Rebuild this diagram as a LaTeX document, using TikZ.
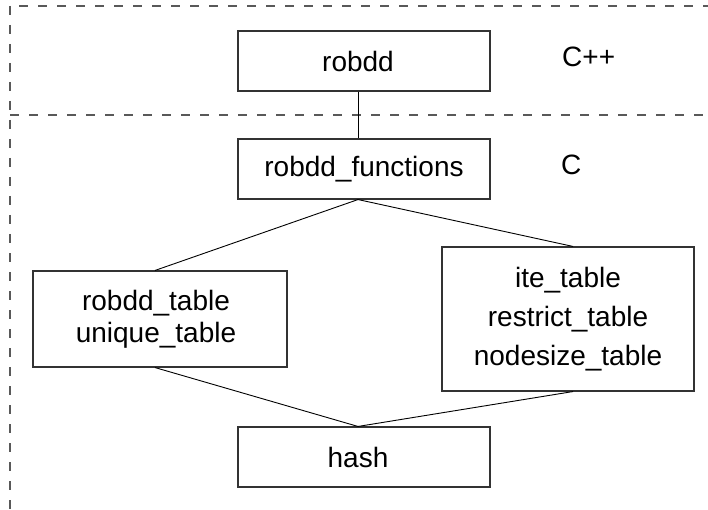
\documentclass[tikz,border=0pt]{standalone}
\usepackage{fontspec}
\setmainfont{Liberation Sans}
\begin{document}
\begin{tikzpicture}[x=1pt,y=-1pt,
  box/.style={draw=black!80, line width=1.1pt, minimum width=252pt, inner sep=0pt, align=center},
  txtA/.style={font=\fontsize{28}{32}\selectfont},
  txtB/.style={font=\fontsize{28}{39}\selectfont},
  link/.style={draw=black, line width=0.9pt},
  sep/.style={draw=black!65, line width=1.1pt, dash pattern=on 9pt off 10pt},
  lbl/.style={font=\fontsize{28}{32}\selectfont, inner sep=0pt}]
\useasboundingbox (0,0) rectangle (708,510);
\draw[sep] (19,6) -- (708,6);
\draw[sep] (10,6) -- (10,510);
\draw[sep] (10,115) -- (708,115);
\node[box, txtA, minimum height=60pt] (robdd) at (364,61) {robdd\hspace*{12pt}};
\node[box, txtA, minimum height=60pt] (fun) at (364,169) {robdd\_functions};
\node[box, txtA, minimum width=254pt, minimum height=96pt] (left) at (160,319) {robdd\_table\hspace*{8pt}\\unique\_table\hspace*{8pt}};
\node[box, txtB, minimum height=144pt] (right) at (568,319) {ite\_table\\restrict\_table\\nodesize\_table};
\node[box, txtA, minimum height=60pt] (hash) at (364,457) {hash\hspace*{12pt}};
\node[lbl, anchor=base west] (cpp) at (562,67) {C++};
\node[lbl, anchor=base west] (c) at (561,175) {C};
\draw[link] ([xshift=-6pt]robdd.south) -- ([xshift=-6pt]fun.north);
\draw[link] ([xshift=-6pt]fun.south) -- ([xshift=-5pt]left.north);
\draw[link] ([xshift=-6pt]fun.south) -- ([xshift=5pt]right.north);
\draw[link] ([xshift=-5pt]left.south) -- ([xshift=-6pt]hash.north);
\draw[link] ([xshift=5pt]right.south) -- ([xshift=-6pt]hash.north);
\end{tikzpicture}
\end{document}
